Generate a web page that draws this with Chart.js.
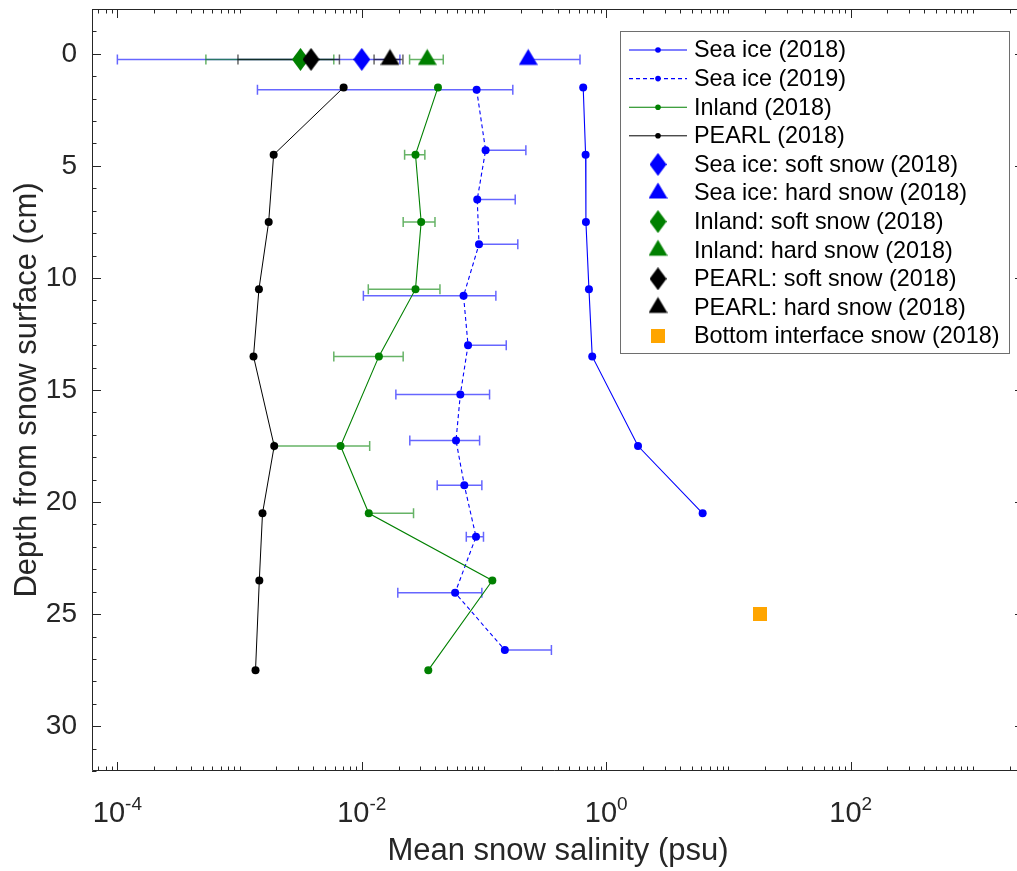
<!DOCTYPE html>
<html>
<head>
<meta charset="utf-8">
<title>Mean snow salinity profiles</title>
<script src="https://cdn.jsdelivr.net/npm/chart.js@4.4.1/dist/chart.umd.min.js"></script>
<style>
html,body{margin:0;padding:0;background:#fff;overflow:hidden;}
</style>
</head>
<body>
<canvas id="salinityChart" width="1017" height="871"></canvas>
<script>
// --- data (salinity in psu, depth in cm) ---
const depthSeaIce2018 = [1.5, 4.5, 7.5, 10.5, 13.5, 17.5, 20.5];
const seaIce2018 = [0.648, 0.678, 0.682, 0.722, 0.768, 1.82, 6.15];

const depthSeaIce2019 = [1.6, 4.3, 6.5, 8.5, 10.8, 13.0, 15.2, 17.25, 19.25, 21.55, 24.05, 26.6];
const seaIce2019 = [0.087, 0.103, 0.088, 0.091, 0.068, 0.074, 0.064, 0.059, 0.069, 0.086, 0.058, 0.148];
const seaIce2019Low = [0.0014, null, null, null, 0.0103, null, 0.019, 0.0247, 0.0414, 0.0716, 0.0197, null];
const seaIce2019High = [0.172, 0.22, 0.18, 0.189, 0.125, 0.152, 0.111, 0.092, 0.096, 0.099, 0.096, 0.356];

const depthInland = [1.5, 4.5, 7.5, 10.5, 13.5, 17.5, 20.5, 23.5, 27.5];
const inland2018 = [0.042, 0.0275, 0.0306, 0.0275, 0.0138, 0.0067, 0.0114, 0.117, 0.035];
const inlandLow = [null, 0.0224, 0.0218, 0.0113, 0.0059, 0.0019, null, null, null];
const inlandHigh = [null, 0.0328, 0.0397, 0.0436, 0.0218, 0.0116, 0.0265, null, null];

const depthPearl = [1.5, 4.5, 7.5, 10.5, 13.5, 17.5, 20.5, 23.5, 27.5];
const pearl2018 = [0.0071, 0.0019, 0.00173, 0.00144, 0.0013, 0.00192, 0.00154, 0.00145, 0.00135];

// surface (soft / hard snow) samples
const surfaceDepth = 0.25;
const surfaceLabels = ['Sea ice: soft snow (2018)', 'Sea ice: hard snow (2018)', 'Inland: soft snow (2018)',
  'Inland: hard snow (2018)', 'PEARL: soft snow (2018)', 'PEARL: hard snow (2018)'];
const surfaceValues = [0.0100, 0.23, 0.00315, 0.0343, 0.00384, 0.0170];
const surfaceLow = [0.0001, null, 0.00053, 0.0246, 0.00097, 0.0126];
const surfaceHigh = [0.0205, 0.61, 0.0059, 0.0464, 0.00656, 0.0217];

const bottomDepth = [25];
const bottomSalinity = [18];

// axis ticks
const xTickExps = [-4, -2, 0, 2];
const yTickLabels = [0, 5, 10, 15, 20, 25, 30];

const fontFamily = '"Liberation Sans", Arial, Helvetica, sans-serif';
const axisColor = '#262626';

function pts(xs, ys){
  return xs.map((v,i)=>({x:v, y:ys[i]}));
}

// marker images (diamond / triangle / square like matlab)
function makeMarker(shape, color, w, h){
  const c = document.createElement('canvas');
  c.width = w; c.height = h;
  const g = c.getContext('2d');
  g.fillStyle = color;
  g.beginPath();
  if(shape==='diamond'){
    g.moveTo(w/2,0); g.lineTo(w,h/2); g.lineTo(w/2,h); g.lineTo(0,h/2);
  } else if(shape==='triangle'){
    // centroid sits at the canvas centre
    g.moveTo(w/2,0.4); g.lineTo(w,16.4); g.lineTo(0,16.4);
  } else {
    g.rect(0,0,w,h);
  }
  g.closePath();
  g.fill();
  return c;
}

const surfaceColors = ['#0000ff','#0000ff','#008000','#008000','#000000','#000000'];
const surfaceErrColors = ['rgba(0,0,255,0.6)','rgba(0,0,255,0.6)','rgba(0,128,0,0.6)','rgba(0,128,0,0.6)','rgba(0,0,0,0.6)','rgba(0,0,0,0.6)'];

let datasets = [
{
  label:'Sea ice (2018)',
  data:pts(seaIce2018, depthSeaIce2018),
  borderColor:'#0000ff', backgroundColor:'#0000ff',
  borderWidth:1.1, showLine:true,
  pointRadius:4, pointBorderWidth:0
},
{
  label:'Sea ice (2019)',
  data:pts(seaIce2019, depthSeaIce2019),
  borderColor:'#0000ff', backgroundColor:'#0000ff',
  borderWidth:1.1, borderDash:[4,3], showLine:true,
  pointRadius:4, pointBorderWidth:0,
  errLow:seaIce2019Low, errHigh:seaIce2019High, errColor:'rgba(0,0,255,0.6)'
},
{
  label:'Inland (2018)',
  data:pts(inland2018, depthInland),
  borderColor:'#008000', backgroundColor:'#008000',
  borderWidth:1.1, showLine:true,
  pointRadius:4, pointBorderWidth:0,
  errLow:inlandLow, errHigh:inlandHigh, errColor:'rgba(0,128,0,0.6)'
},
{
  label:'PEARL (2018)',
  data:pts(pearl2018, depthPearl),
  borderColor:'#000000', backgroundColor:'#000000',
  borderWidth:1, showLine:true,
  pointRadius:4, pointBorderWidth:0
}
];

surfaceLabels.forEach((lab,i)=>{
  datasets.push({
    label:lab,
    data:[{x:surfaceValues[i], y:surfaceDepth}],
    borderColor:surfaceColors[i], backgroundColor:surfaceColors[i],
    showLine:false,
    pointStyle:makeMarker(i%2===0 ? 'diamond' : 'triangle', surfaceColors[i], i%2===0 ? 17 : 19, i%2===0 ? 23 : 22),
    pointRadius:8,
    errLow:[surfaceLow[i]], errHigh:[surfaceHigh[i]], errColor:surfaceErrColors[i]
  });
});

datasets.push({
  label:'Bottom interface snow (2018)',
  data:pts(bottomSalinity, bottomDepth),
  borderColor:'#ffa500', backgroundColor:'#ffa500',
  showLine:false,
  pointStyle:makeMarker('square','#ffa500',14,14),
  pointRadius:8
});

// later datasets drawn on top, like matlab
datasets.forEach((d,i)=>{ d.order = datasets.length - i; });


// error bars below the markers
const errorBars = {
  id:'errorBars',
  beforeDatasetsDraw(chart){
    const {ctx, chartArea, scales:{x, y}} = chart;
    ctx.save();
    ctx.beginPath();
    ctx.rect(chartArea.left, chartArea.top, chartArea.width, chartArea.height);
    ctx.clip();
    ctx.lineWidth = 1.5;
    chart.data.datasets.forEach(ds=>{
      if(!ds.errHigh) return;
      ctx.strokeStyle = ds.errColor;
      ds.data.forEach((p,i)=>{
        const lo = ds.errLow[i], hi = ds.errHigh[i];
        if(lo==null && hi==null) return;
        const py = y.getPixelForValue(p.y);
        const x0 = x.getPixelForValue(lo!=null ? lo : p.x);
        const x1 = x.getPixelForValue(hi!=null ? hi : p.x);
        ctx.beginPath();
        ctx.moveTo(x0,py); ctx.lineTo(x1,py);
        if(lo!=null){ ctx.moveTo(x0,py-5); ctx.lineTo(x0,py+5); }
        if(hi!=null){ ctx.moveTo(x1,py-5); ctx.lineTo(x1,py+5); }
        ctx.stroke();
      });
    });
    ctx.restore();
  }
};

// box, inward ticks, labels, titles and the legend
const matlabAxes = {
  id:'matlabAxes',
  afterDraw(chart){
    const {ctx, chartArea:a, scales:{x, y}} = chart;
    // the right side of the axes box lies a few px past the picture edge
    const boxRight = a.right + 7;
    ctx.save();
    ctx.strokeStyle = axisColor;
    ctx.lineWidth = 1;
    ctx.beginPath();
    ctx.moveTo(a.right, a.top+0.5); ctx.lineTo(a.left+0.5, a.top+0.5);
    ctx.lineTo(a.left+0.5, a.bottom-0.5); ctx.lineTo(a.right, a.bottom-0.5);
    ctx.stroke();

    ctx.beginPath();
    const lmin = Math.floor(Math.log10(x.min)), lmax = Math.ceil(Math.log10(x.max));
    for(let k=lmin;k<=lmax;k++){
      for(let m=1;m<=9;m++){
        const v = m*Math.pow(10,k);
        if(v<x.min || v>x.max) continue;
        const px = Math.round(x.getPixelForValue(v))+0.5;
        const len = (m===1 && xTickExps.includes(k)) ? 9 : 4.5;
        ctx.moveTo(px,a.bottom); ctx.lineTo(px,a.bottom-len);
        ctx.moveTo(px,a.top); ctx.lineTo(px,a.top+len);
      }
    }
    for(let v=Math.ceil(y.min); v<=y.max; v++){
      const py = Math.round(y.getPixelForValue(v))+0.5;
      const len = yTickLabels.includes(v) ? 9 : 4.5;
      ctx.moveTo(a.left,py); ctx.lineTo(a.left+len,py);
      ctx.moveTo(boxRight,py); ctx.lineTo(boxRight-len,py);
    }
    ctx.stroke();

    ctx.fillStyle = axisColor;
    // y tick labels
    ctx.font = '28px '+fontFamily;
    ctx.textAlign = 'right';
    ctx.textBaseline = 'middle';
    yTickLabels.forEach(v=>{
      ctx.fillText(String(v), 77, y.getPixelForValue(v));
    });
    // x tick labels 10^k
    ctx.textAlign = 'left';
    ctx.textBaseline = 'alphabetic';
    xTickExps.forEach(e=>{
      const px = x.getPixelForValue(Math.pow(10,e));
      ctx.font = '29px '+fontFamily;
      const wb = ctx.measureText('10').width;
      ctx.font = '19px '+fontFamily;
      const we = ctx.measureText(String(e)).width;
      const left = px-(wb+we)/2;
      ctx.font = '29px '+fontFamily;
      ctx.fillText('10', left, 822);
      ctx.font = '19px '+fontFamily;
      ctx.fillText(String(e), left+wb, 810);
    });

    // axis titles
    ctx.font = '31px '+fontFamily;
    ctx.textAlign = 'center';
    ctx.fillText('Mean snow salinity (psu)', (a.left+boxRight)/2, 860);
    ctx.save();
    ctx.translate(36,(a.top+a.bottom)/2);
    ctx.rotate(-Math.PI/2);
    ctx.fillText('Depth from snow surface (cm)',0,0);
    ctx.restore();

    // legend
    const lx = 620.5, ly = 31.5, lw = 389, lh = 322;
    ctx.fillStyle = '#ffffff';
    ctx.fillRect(lx,ly,lw,lh);
    ctx.strokeStyle = '#6e6e6e';
    ctx.strokeRect(lx,ly,lw,lh);
    ctx.font = '23.4px '+fontFamily;
    ctx.textAlign = 'left';
    ctx.textBaseline = 'middle';
    chart.data.datasets.forEach((ds,i)=>{
      const cy = 50 + i*28.6;
      if(ds.showLine){
        ctx.save();
        ctx.strokeStyle = ds.borderColor;
        ctx.lineWidth = ds.borderWidth;
        ctx.setLineDash(ds.borderDash || []);
        ctx.beginPath();
        ctx.moveTo(629,cy); ctx.lineTo(687,cy);
        ctx.stroke();
        ctx.setLineDash([]);
        ctx.fillStyle = ds.backgroundColor;
        ctx.beginPath();
        ctx.arc(658,cy,2.8,0,Math.PI*2);
        ctx.fill();
        ctx.restore();
      } else {
        const img = ds.pointStyle;
        ctx.drawImage(img, 658-img.width/2, cy-img.height/2);
      }
      ctx.fillStyle = '#000000';
      ctx.fillText(ds.label, 694, cy+1);
    });
    ctx.restore();
  }
};


new Chart(document.getElementById('salinityChart'), {
  type:'scatter',
  data:{datasets:datasets},
  options:{
    responsive:false,
    animation:false,
    layout:{autoPadding:false, padding:{top:9, right:0, left:0, bottom:0}},
    plugins:{
      legend:{display:false},
      tooltip:{enabled:false}
    },
    scales:{
      x:{
        type:'logarithmic',
        // range chosen so the right box edge falls just past 1017 px
        min:6.2e-5, max:2296,
        ticks:{display:false},
        grid:{display:false, drawTicks:false},
        border:{display:false},
        afterFit:s=>{ s.height = 100; }
      },
      y:{
        type:'linear',
        reverse:true,
        min:-2, max:32,
        ticks:{display:false},
        grid:{display:false, drawTicks:false},
        border:{display:false},
        afterFit:s=>{ s.width = 92; }
      }
    }
  },
  plugins:[errorBars, matlabAxes]
});
</script>
</body>
</html>
